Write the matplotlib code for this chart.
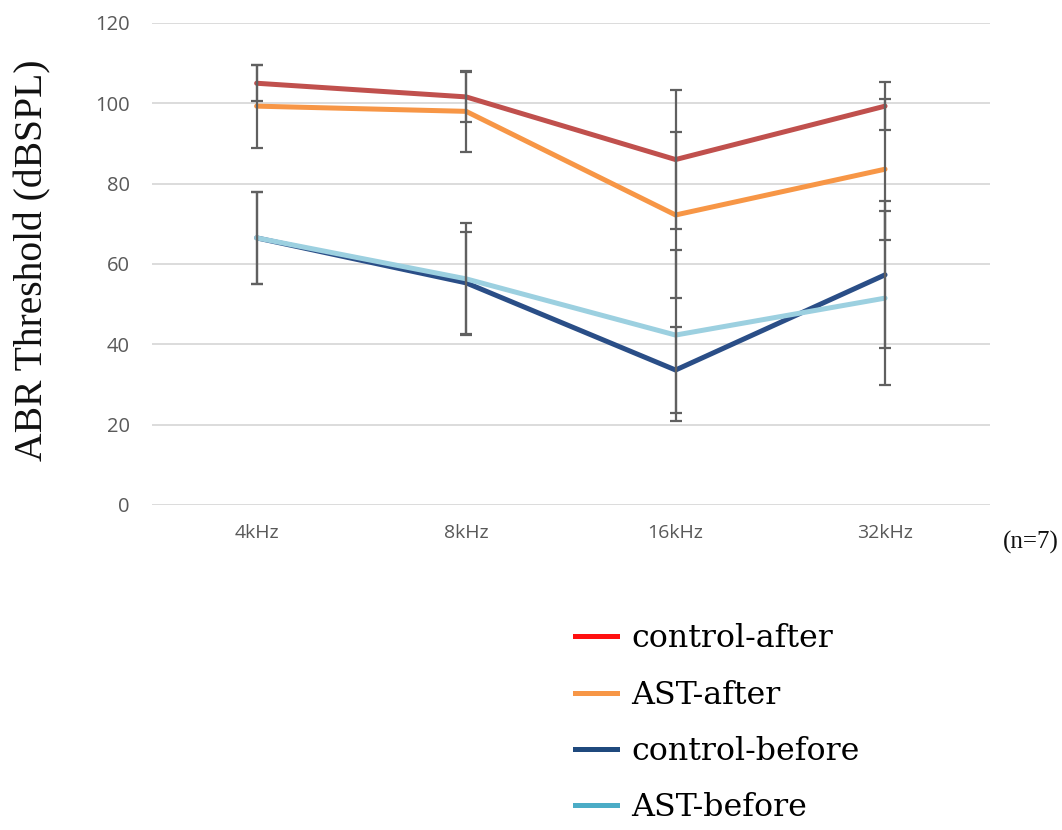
import matplotlib
matplotlib.use("Agg")
import matplotlib.pyplot as plt
from matplotlib.lines import Line2D

categories = ["4kHz", "8kHz", "16kHz", "32kHz"]
series_names = ["control-after", "AST-after", "control-before", "AST-before"]
control_after = [105.0, 101.6, 86.0, 99.3]
ast_after = [99.3, 98.0, 72.2, 83.6]
control_before = [66.5, 55.3, 33.6, 57.3]
ast_before = [66.5, 56.3, 42.3, 51.5]
err_control_after = [4.5, 6.2, 17.2, 6.0]
err_ast_after = [10.3, 10.0, 20.6, 17.6]
err_control_before = [11.5, 12.7, 10.6, 18.3]
err_ast_before = [11.5, 14.0, 21.3, 21.6]
yticks = [0, 20, 40, 60, 80, 100, 120]

line_colors = ["#C0504D", "#F79646", "#2A4E87", "#9CD0E0"]
legend_colors = ["#FF1010", "#F79646", "#1F497D", "#4BACC6"]

fig = plt.figure(figsize=(10.62, 8.30), dpi=100)
ax = fig.add_axes([0.143, 0.3916, 0.789, 0.5807])

x = list(range(len(categories)))
vals = [control_after, ast_after, control_before, ast_before]
errs = [err_control_after, err_ast_after, err_control_before, err_ast_before]

for v, c in zip(vals, line_colors):
    ax.plot(x, v, color=c, lw=3.6, solid_capstyle="round", zorder=3)
for v, e in zip(vals, errs):
    ax.errorbar(x, v, yerr=e, fmt="none", ecolor="#606060", elinewidth=1.6,
                capsize=4.3, capthick=1.6, zorder=4)

ax.set_xlim(-0.5, 3.5)
ax.set_ylim(0, 120)
ax.set_yticks(yticks)
ax.set_xticks(x)
ax.set_xticklabels(categories)
ax.grid(axis="y", color="#D9D9D9", lw=1.3)
ax.set_axisbelow(True)
for s in ax.spines.values():
    s.set_visible(False)
ax.tick_params(length=0, colors="#595959")
for lab in ax.get_yticklabels():
    lab.set_fontfamily("Open Sans")
    lab.set_fontsize(14.5)
for lab in ax.get_xticklabels():
    lab.set_fontfamily("Open Sans")
    lab.set_fontsize(14)
ax.tick_params(axis="y", pad=16)
ax.tick_params(axis="x", pad=14)

fig.text(0.031, 0.687, "ABR Threshold (dBSPL)", rotation=90, ha="center", va="center",
         fontsize=28.5, family="Liberation Serif", color="#111111")
fig.text(0.944, 0.346, "(n=7)", ha="left", va="center", fontsize=18,
         family="Liberation Serif", color="#111111")

handles = [Line2D([0], [0], color=c, lw=3.6) for c in legend_colors]
fig.legend(handles, series_names, loc="upper left", bbox_to_anchor=(0.541, 0.249),
           frameon=False, prop={"family": "DejaVu Serif", "size": 22.8},
           handlelength=1.35, handletextpad=0.44, labelspacing=0.8,
           borderpad=0, borderaxespad=0)

fig.savefig("out.png", dpi=100)
